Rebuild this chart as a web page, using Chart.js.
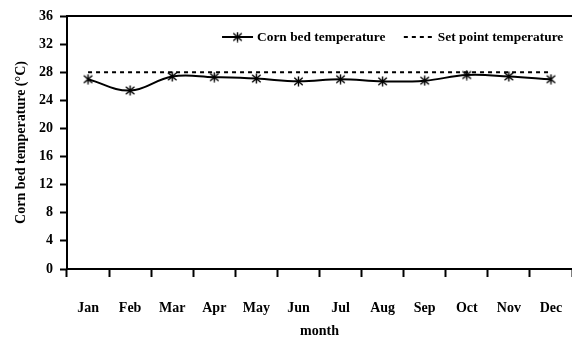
<!DOCTYPE html>
<html>
<head>
<meta charset="utf-8">
<script src="https://cdn.jsdelivr.net/npm/chart.js@4"></script>
<style>
html,body{margin:0;padding:0;background:#fff;}
#wrap{width:572px;height:340px;}
</style>
</head>
<body>
<div id="wrap"><canvas id="c" width="572" height="340"></canvas></div>
<script>
const months = ["Jan","Feb","Mar","Apr","May","Jun","Jul","Aug","Sep","Oct","Nov","Dec"];
const cornBed = [27.0, 25.4, 27.4, 27.3, 27.1, 26.7, 27.0, 26.7, 26.8, 27.6, 27.4, 27.0];
const setPoint = [28, 28, 28, 28, 28, 28, 28, 28, 28, 28, 28, 28];
const yTicks = [0, 4, 8, 12, 16, 20, 24, 28, 32, 36];
const seriesNames = ["Corn bed temperature", "Set point temperature"];

const FONT = "'Liberation Serif','Times New Roman',serif";

// asterisk marker: X plus vertical bar
function makeStar(size){
  const cv = document.createElement('canvas');
  cv.width = size; cv.height = size;
  const g = cv.getContext('2d');
  g.strokeStyle = '#000'; g.lineWidth = 1.4;
  const m = size/2, r = size/2 - 0.5;
  g.beginPath();
  g.moveTo(m - r*0.85, m - r*0.75); g.lineTo(m + r*0.85, m + r*0.75);
  g.moveTo(m + r*0.85, m - r*0.75); g.lineTo(m - r*0.85, m + r*0.75);
  g.moveTo(m, m - r); g.lineTo(m, m + r);
  g.stroke();
  return cv;
}
const starImg = makeStar(11);

const frame = {
  id: 'frame',
  afterDatasetsDraw(chart){
    const {ctx, chartArea:a} = chart;
    ctx.save();
    ctx.strokeStyle = '#000'; ctx.lineWidth = 2;
    ctx.beginPath();
    ctx.moveTo(a.left, a.top); ctx.lineTo(a.right + 2, a.top);
    ctx.stroke();
    // legend
    const w = a.right - a.left;
    const ly = a.top + 21;
    ctx.font = "bold 13.4px " + FONT;
    ctx.fillStyle = '#000';
    ctx.textBaseline = 'middle';
    // item 1
    let x0 = a.left + w*0.307;
    ctx.lineWidth = 2; ctx.setLineDash([]);
    ctx.beginPath(); ctx.moveTo(x0, ly); ctx.lineTo(x0 + 31, ly); ctx.stroke();
    ctx.drawImage(starImg, x0 + 15.5 - 5.5, ly - 5.5);
    ctx.fillText(seriesNames[0], x0 + 35, ly + 1);
    // item 2
    let x1 = a.left + w*0.667;
    ctx.lineWidth = 2; ctx.setLineDash([4,4]);
    ctx.beginPath(); ctx.moveTo(x1, ly); ctx.lineTo(x1 + 31, ly); ctx.stroke();
    ctx.setLineDash([]);
    ctx.fillText(seriesNames[1], x1 + 34, ly + 1);
    ctx.restore();
  }
};

new Chart(document.getElementById('c'), {
  type: 'line',
  data: {
    labels: months,
    datasets: [
      {
        label: seriesNames[1],
        data: setPoint,
        borderColor: '#000',
        borderWidth: 2,
        borderDash: [4,4],
        pointRadius: 0,
        tension: 0,
        fill: false
      },
      {
        label: seriesNames[0],
        data: cornBed,
        borderColor: '#000',
        borderWidth: 2,
        pointStyle: starImg,
        pointRadius: 5.5,
        tension: 0.4,
        fill: false
      }
    ]
  },
  options: {
    responsive: false,
    animation: false,
    layout: { autoPadding: false, padding: { top: 16, right: 0, left: 0, bottom: 0 } },
    plugins: { legend: { display: false }, tooltip: { enabled: false } },
    scales: {
      x: {
        offset: true,
        grid: { display: true, offset: true, drawOnChartArea: false, drawTicks: true, tickLength: 8, tickWidth: 2, color: '#000' },
        border: { display: true, color: '#000', width: 2 },
        ticks: { color: '#000', padding: 0, maxRotation: 0, font: { family: FONT, size: 14, weight: 'bold', lineHeight: '62px' } },
        title: { display: true, text: 'month', color: '#000', padding: { top: 0, bottom: 0 }, font: { family: FONT, size: 14, weight: 'bold' } },
        afterFit(s){ s.height = 71; s.paddingRight = 0; s.paddingLeft = 0; }
      },
      y: {
        min: 0, max: 36,
        afterBuildTicks(s){ s.ticks = yTicks.map(v => ({value: v})); },
        grid: { display: true, drawOnChartArea: false, drawTicks: true, tickLength: 7, tickWidth: 2, color: '#000' },
        border: { display: true, color: '#000', width: 2 },
        ticks: { color: '#000', padding: 7, font: { family: FONT, size: 14, weight: 'bold' } },
        title: { display: true, text: 'Corn bed temperature (°C)', color: '#000', padding: { top: 13, bottom: 4 }, font: { family: FONT, size: 14, weight: 'bold' } },
        afterFit(s){ s.width = 67; }
      }
    }
  },
  plugins: [frame]
});
</script>
</body>
</html>
